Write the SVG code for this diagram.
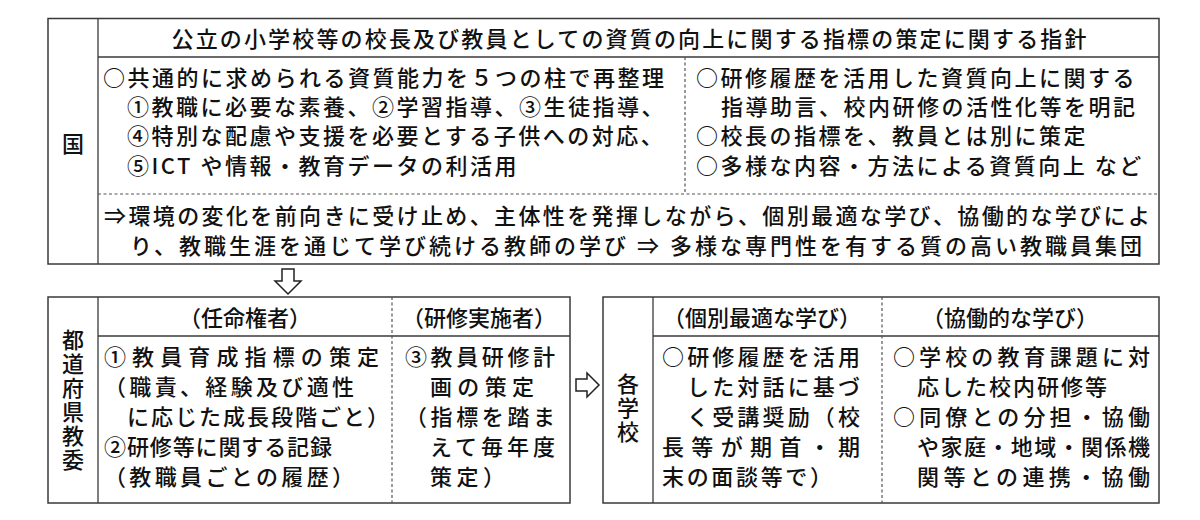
<svg xmlns="http://www.w3.org/2000/svg" width="1200" height="520" viewBox="0 0 1200 520">
<style>
text{font-family:"Noto Sans CJK JP","Noto Sans CJK SC",sans-serif;font-size:22px;font-weight:500;fill:#111;dominant-baseline:central}
.t{letter-spacing:2.5px}
.v{writing-mode:vertical-rl;letter-spacing:2px}
.box{fill:#fff;stroke:#3a3a3a;stroke-width:1.5}
.ln{stroke:#3a3a3a;stroke-width:1.3;fill:none}
.dash{stroke:#555;stroke-width:1.2;stroke-dasharray:3 2.5;fill:none}
.arrow{fill:#fff;stroke:#222;stroke-width:1.5;stroke-linejoin:miter}
</style>
<rect width="1200" height="520" fill="#fff"/>

<g id="kuni">
<rect class="box" x="48" y="18.5" width="1111" height="245.5"/>
<line class="ln" x1="98" y1="18.5" x2="98" y2="264"/>
<line class="ln" x1="98" y1="57" x2="1159" y2="57"/>
<line class="dash" x1="98" y1="194" x2="1159" y2="194"/>
<line class="dash" x1="685" y1="57" x2="685" y2="194"/>
<text x="73" y="142" text-anchor="middle">国</text>
<text x="629" y="37" text-anchor="middle" textLength="915" lengthAdjust="spacing">公立の小学校等の校長及び教員としての資質の向上に関する指標の策定に関する指針</text>
<text class="t" x="103" y="76">○共通的に求められる資質能力を５つの柱で再整理</text>
<text class="t" x="127" y="105">①教職に必要な素養、②学習指導、③生徒指導、</text>
<text class="t" x="127" y="134">④特別な配慮や支援を必要とする子供への対応、</text>
<text class="t" x="127" y="164">⑤ICT や情報・教育データの利活用</text>
<text class="t" x="696" y="76">○研修履歴を活用した資質向上に関する</text>
<text class="t" x="721" y="105">指導助言、校内研修の活性化等を明記</text>
<text class="t" x="696" y="134">○校長の指標を、教員とは別に策定</text>
<text class="t" x="696" y="164">○多様な内容・方法による資質向上 など</text>
<text x="104" y="214" textLength="1046" lengthAdjust="spacing">⇒環境の変化を前向きに受け止め、主体性を発揮しながら、個別最適な学び、協働的な学びによ</text>
<text x="130" y="244" textLength="1012" lengthAdjust="spacing">り、教職生涯を通じて学び続ける教師の学び ⇒ 多様な専門性を有する質の高い教職員集団</text>
</g>

<g id="todofuken">
<rect class="box" x="48" y="297" width="522" height="206"/>
<line class="ln" x1="98" y1="297" x2="98" y2="503"/>
<line class="ln" x1="98" y1="336" x2="570" y2="336"/>
<line class="dash" x1="392" y1="297" x2="392" y2="503"/>
<text class="v" x="73" y="329">都道府県教委</text>
<text x="245" y="316" text-anchor="middle">（任命権者）</text>
<text x="479" y="316" text-anchor="middle">（研修実施者）</text>
<text x="104" y="355" textLength="275" lengthAdjust="spacing">①教員育成指標の策定</text>
<text x="104" y="385" textLength="250" lengthAdjust="spacing">（職責、経験及び適性</text>
<text x="127" y="415" textLength="262" lengthAdjust="spacing">に応じた成長段階ごと）</text>
<text x="104" y="445" textLength="228" lengthAdjust="spacing">②研修等に関する記録</text>
<text x="104" y="475" textLength="250" lengthAdjust="spacing">（教職員ごとの履歴）</text>
<text x="405" y="355" textLength="150" lengthAdjust="spacing">③教員研修計</text>
<text x="430" y="385" textLength="104" lengthAdjust="spacing">画の策定</text>
<text x="405" y="415" textLength="150" lengthAdjust="spacing">（指標を踏ま</text>
<text x="430" y="445" textLength="125" lengthAdjust="spacing">えて毎年度</text>
<text x="430" y="475" textLength="75" lengthAdjust="spacing">策定）</text>
</g>

<g id="kakugakko">
<rect class="box" x="603" y="297" width="556" height="206"/>
<line class="ln" x1="653" y1="297" x2="653" y2="503"/>
<line class="ln" x1="653" y1="336" x2="1159" y2="336"/>
<line class="dash" x1="882" y1="297" x2="882" y2="503"/>
<text class="v" x="628" y="373">各学校</text>
<text x="762" y="316" text-anchor="middle">（個別最適な学び）</text>
<text x="1010" y="316" text-anchor="middle">（協働的な学び）</text>
<text x="662" y="355" textLength="198" lengthAdjust="spacing">○研修履歴を活用</text>
<text x="687" y="385" textLength="173" lengthAdjust="spacing">した対話に基づ</text>
<text x="687" y="415" textLength="173" lengthAdjust="spacing">く受講奨励（校</text>
<text x="662" y="445" textLength="198" lengthAdjust="spacing">長等が期首・期</text>
<text x="662" y="475" textLength="170" lengthAdjust="spacing">末の面談等で）</text>
<text x="893" y="355" textLength="257" lengthAdjust="spacing">○学校の教育課題に対</text>
<text x="917" y="385" textLength="190" lengthAdjust="spacing">応した校内研修等</text>
<text x="893" y="415" textLength="257" lengthAdjust="spacing">○同僚との分担・協働</text>
<text x="917" y="445" textLength="233" lengthAdjust="spacing">や家庭・地域・関係機</text>
<text x="917" y="475" textLength="233" lengthAdjust="spacing">関等との連携・協働</text>
</g>

<g id="connectors">
<polygon class="arrow" points="282,269 294,269 294,281 301,281 288,294 275,281 282,281"/>
<polygon class="arrow" points="576,379 587,379 587,373 599,385 587,397 587,391 576,391"/>
</g>
</svg>
